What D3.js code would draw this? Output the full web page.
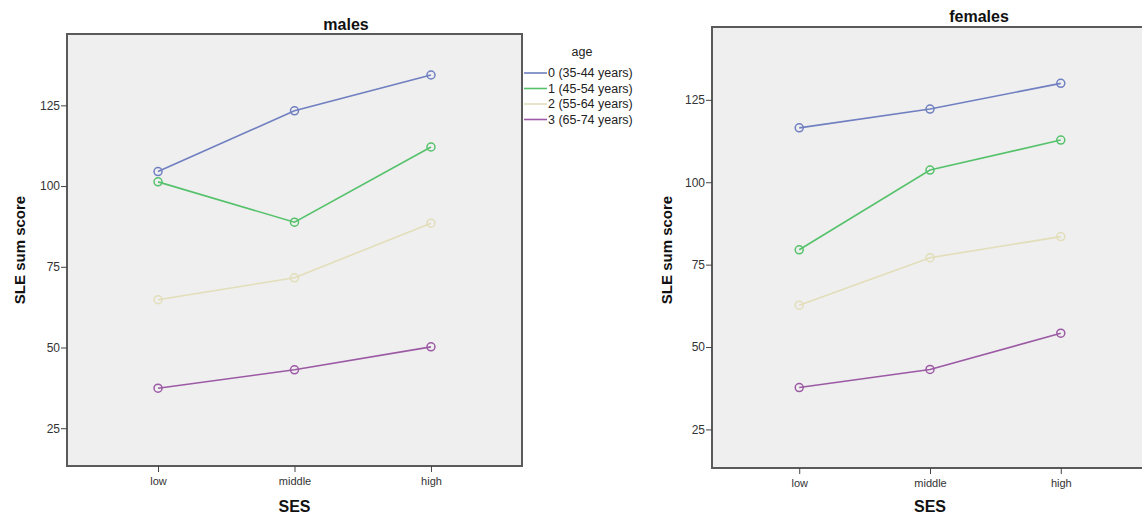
<!DOCTYPE html>
<html>
<head>
<meta charset="utf-8">
<script src="https://cdn.jsdelivr.net/npm/d3@7"></script>
<style>
  body { margin: 0; background: #fff; }
  svg { display: block; font-family: "Liberation Sans", Arial, sans-serif; }
  .tick text { font-size: 11px; fill: #333; }
  .yaxis .tick text { font-size: 12px; }
  .tick line { stroke: #444; }
  .domain { display: none; }
</style>
</head>
<body>
<div id="chart"></div>
<script>
const sesLevels = ['low', 'middle', 'high']
const ageGroups = ['0 (35-44 years)', '1 (45-54 years)', '2 (55-64 years)', '3 (65-74 years)']
const ageColors = ['#6f7fc0', '#55c26b', '#e2deb9', '#9c5aa5']
const yTicks = [25, 50, 75, 100, 125]

// mean SLE sum score per age group, for low / middle / high SES
const malesScores = [
	[104.5, 123.3, 134.4],
	[101.3, 88.8, 112.1],
	[64.8, 71.6, 88.5],
	[37.4, 43.1, 50.2]
]
const femalesScores = [
	[116.5, 122.2, 130.0],
	[79.5, 103.7, 112.8],
	[62.7, 77.1, 83.5],
	[37.7, 43.2, 54.2]
]

const svg = d3.select('#chart').append('svg')
	.attr('width', 1142)
	.attr('height', 515)

const render = ({scores, chartTitle, box, titleX, titleY, yLabelX, legend}) => {
	const g = svg.append('g')
		.attr('transform', `translate(${box.left}, ${box.top})`)
	const width = box.right - box.left
	const height = box.bottom - box.top

	const xScale = d3.scalePoint()
		.domain(sesLevels)
		.range([0, width])
		.padding(0.667)

	const yScale = d3.scaleLinear()
		.domain([13.3, 147.1])
		.range([height, 0])

	g.append('rect')
		.attr('width', width)
		.attr('height', height)
		.attr('fill', '#efefef')
		.attr('stroke', '#5a5a5a')
		.attr('stroke-width', 2)

	g.append('g')
		.attr('transform', `translate(0, ${height})`)
		.call(d3.axisBottom(xScale).tickSize(6).tickPadding(5))

	g.append('g')
		.attr('class', 'yaxis')
		.call(d3.axisLeft(yScale).tickValues(yTicks).tickSize(6).tickPadding(1))

	const line = d3.line()
		.x((d, i) => xScale(sesLevels[i]))
		.y(d => yScale(d))

	scores.forEach((series, k) => {
		g.append('path')
			.datum(series)
			.attr('d', line)
			.attr('fill', 'none')
			.attr('stroke', ageColors[k])
			.attr('stroke-width', 1.6)

		g.selectAll(`.pt${k}`).data(series)
		.enter()
			.append('circle')
				.attr('cx', (d, i) => xScale(sesLevels[i]))
				.attr('cy', d => yScale(d))
				.attr('r', 4)
				.attr('fill', 'none')
				.attr('stroke', ageColors[k])
				.attr('stroke-width', 1.5)
	})

	svg.append('text')
		.attr('x', titleX)
		.attr('y', titleY)
		.attr('text-anchor', 'middle')
		.attr('font-size', 16)
		.attr('font-weight', 'bold')
		.attr('fill', '#111')
		.text(chartTitle)

	svg.append('text')
		.attr('x', box.left + width / 2)
		.attr('y', 512)
		.attr('text-anchor', 'middle')
		.attr('font-size', 16)
		.attr('font-weight', 'bold')
		.attr('fill', '#111')
		.text('SES')

	svg.append('text')
		.attr('transform', `translate(${yLabelX}, 250) rotate(-90)`)
		.attr('text-anchor', 'middle')
		.attr('font-size', 15)
		.attr('font-weight', 'bold')
		.attr('fill', '#111')
		.text('SLE sum score')

	if (legend) {
		const lg = svg.append('g')
			.attr('transform', `translate(${box.right + 2}, 0)`)
		lg.append('text')
			.attr('x', 58)
			.attr('y', 56)
			.attr('text-anchor', 'middle')
			.attr('font-size', 12.5)
			.attr('fill', '#222')
			.text('age')
		ageGroups.forEach((label, k) => {
			const y = 73 + k * 15.5
			lg.append('line')
				.attr('x1', 0)
				.attr('x2', 23)
				.attr('y1', y)
				.attr('y2', y)
				.attr('stroke', ageColors[k])
				.attr('stroke-width', 1.6)
			lg.append('text')
				.attr('x', 24)
				.attr('y', y + 4)
				.attr('font-size', 12.5)
				.attr('fill', '#222')
				.text(label)
		})
	}
}

render({
	scores: malesScores,
	chartTitle: 'males',
	box: {left: 67, right: 522, top: 34, bottom: 466},
	titleX: 346,
	titleY: 30,
	yLabelX: 25,
	legend: true
})

render({
	scores: femalesScores,
	chartTitle: 'females',
	box: {left: 712, right: 1148, top: 27, bottom: 468},
	titleX: 979,
	titleY: 22,
	yLabelX: 672,
	legend: false
})
</script>
</body>
</html>
